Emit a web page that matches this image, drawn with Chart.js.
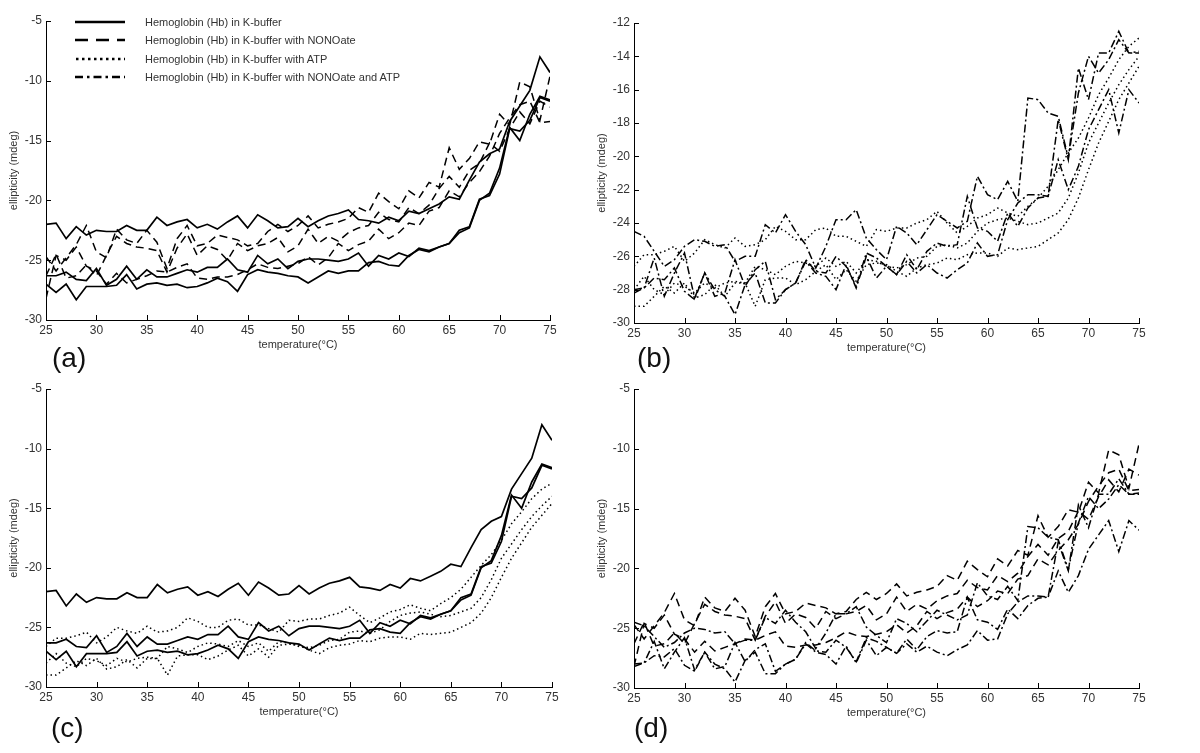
<!DOCTYPE html>
<html>
<head>
<meta charset="utf-8">
<script src="https://cdn.jsdelivr.net/npm/chart.js@4/dist/chart.umd.min.js"></script>
<style>
  body { margin: 0; background: #fff; width: 1200px; height: 753px; position: relative; overflow: hidden;
         font-family: "Liberation Sans", Arial, sans-serif; }
  .panel { position: absolute; }
  .tag { position: absolute; font-size: 28px; color: #111; line-height: 32px; }
  .legend { position: absolute; left: 75px; top: 13px; font-size: 11px; color: #333; }
  .row { height: 18.3px; display: flex; align-items: center; }
  .row svg { width: 50px; height: 6px; margin-right: 20px; }
</style>
</head>
<body>

<div class="panel" id="pa" style="left:0;top:0;width:562px;height:360px"><canvas id="ca"></canvas></div>
<div class="panel" id="pb" style="left:588px;top:0;width:563px;height:363px"><canvas id="cb"></canvas></div>
<div class="panel" id="pc" style="left:0;top:368px;width:564px;height:359px"><canvas id="cc"></canvas></div>
<div class="panel" id="pd" style="left:588px;top:368px;width:563px;height:360px"><canvas id="cd"></canvas></div>

<div class="legend">
  <div class="row"><svg><line x1="0" y1="3" x2="50" y2="3" stroke="#000" stroke-width="2.5"/></svg>Hemoglobin (Hb) in K-buffer</div>
  <div class="row"><svg><line x1="0" y1="3" x2="50" y2="3" stroke="#000" stroke-width="2.5" stroke-dasharray="13 8"/></svg>Hemoglobin (Hb) in K-buffer with NONOate</div>
  <div class="row"><svg><line x1="1" y1="3" x2="50" y2="3" stroke="#000" stroke-width="2.5" stroke-dasharray="2.5 3.5"/></svg>Hemoglobin (Hb) in K-buffer with ATP</div>
  <div class="row"><svg><line x1="0" y1="3" x2="50" y2="3" stroke="#000" stroke-width="2.5" stroke-dasharray="8 4 2.5 4"/></svg>Hemoglobin (Hb) in K-buffer with NONOate and ATP</div>
</div>

<div class="tag" style="left:52px;top:342px">(a)</div>
<div class="tag" style="left:637px;top:342px">(b)</div>
<div class="tag" style="left:51px;top:712px">(c)</div>
<div class="tag" style="left:634px;top:712px">(d)</div>

<script>
// temperature (°C)
const temps = [25,26,27,28,29,30,31,32,33,34,35,36,37,38,39,40,41,42,43,44,
  45,46,47,48,49,50,51,52,53,54,55,56,57,58,59,60,61,62,63,64,
  65,66,67,68,69,70,71,72,73,74,75];

// Hb in K-buffer (3 runs)
const kbuf1 = [-22.0,-21.9,-23.2,-22.2,-22.9,-22.5,-22.6,-22.6,-22.1,-22.5,
  -22.5,-21.4,-22.1,-21.8,-21.6,-22.3,-22.0,-22.4,-21.8,-21.3,
  -22.3,-21.2,-21.7,-22.3,-22.2,-21.5,-22.2,-21.7,-21.3,-21.1,
  -20.8,-21.6,-21.7,-21.9,-21.4,-21.7,-20.9,-21.1,-20.7,-20.3,
  -19.7,-19.9,-18.3,-16.8,-16.1,-15.7,-13.4,-12.1,-10.8,-8.0,
  -9.3];
const kbuf2 = [-26.3,-26.3,-26.0,-26.6,-26.7,-25.7,-27.1,-26.6,-25.5,-26.6,
  -25.8,-26.4,-26.4,-26.1,-25.8,-26.0,-25.6,-25.6,-24.9,-25.8,
  -26.0,-24.6,-25.3,-24.9,-25.7,-25.1,-24.9,-24.9,-25.0,-25.1,
  -24.9,-24.4,-25.5,-24.6,-24.9,-24.4,-24.7,-24.0,-24.2,-23.9,
  -23.6,-22.5,-22.2,-19.9,-19.6,-17.8,-14.0,-14.2,-13.3,-11.4,
  -11.7];
const kbuf3 = [-27.0,-27.7,-27.0,-28.3,-27.2,-27.2,-27.2,-27.1,-26.2,-27.4,
  -27.0,-26.9,-27.1,-27.0,-27.3,-27.2,-26.9,-26.5,-26.8,-27.6,
  -26.2,-25.8,-26.0,-26.1,-26.3,-26.4,-26.9,-26.4,-25.9,-26.1,
  -25.9,-25.9,-25.2,-25.1,-25.4,-25.5,-24.6,-24.1,-24.3,-23.9,
  -23.6,-22.7,-22.3,-20.0,-19.4,-17.3,-13.9,-15.0,-12.8,-11.3,
  -11.6];

// with NONOate
const nono1 = [-24.7,-25.9,-24.8,-23.7,-22.1,-24.3,-24.8,-22.4,-23.3,-23.6,
  -22.5,-23.5,-25.7,-23.2,-22.1,-23.8,-23.6,-22.9,-23.1,-23.3,
  -23.8,-23.6,-22.6,-22.0,-22.6,-22.1,-21.3,-22.3,-22.0,-21.8,
  -21.5,-20.6,-21.0,-19.4,-20.1,-20.7,-19.2,-19.8,-18.5,-18.9,
  -15.6,-17.4,-16.5,-15.1,-15.3,-12.8,-13.7,-10.1,-10.5,-13.3,
  -9.6];
const nono2 = [-26.3,-24.5,-26.5,-26.3,-25.4,-26.3,-24.6,-23.0,-23.6,-23.9,
  -24.0,-24.2,-26.0,-24.0,-22.8,-24.6,-23.8,-24.1,-25.0,-23.6,
  -24.2,-23.8,-23.6,-23.1,-24.3,-23.8,-22.4,-23.6,-23.0,-23.4,
  -22.7,-22.3,-22.1,-21.0,-21.6,-21.8,-20.6,-21.1,-20.4,-19.0,
  -18.0,-18.9,-17.5,-16.9,-15.2,-15.9,-14.0,-12.6,-13.6,-11.7,
  -12.2];
const nono3 = [-28.2,-24.6,-25.0,-23.9,-25.5,-25.9,-27.0,-26.1,-26.9,-26.6,
  -26.3,-25.9,-26.0,-25.6,-25.3,-26.5,-26.6,-26.4,-26.4,-26.2,
  -25.8,-25.3,-25.6,-25.7,-25.5,-25.3,-24.7,-25.4,-24.8,-23.6,
  -24.2,-23.7,-23.4,-22.4,-23.2,-22.7,-21.9,-22.1,-20.9,-20.6,
  -19.2,-19.7,-18.5,-17.6,-16.3,-14.4,-13.1,-12.0,-11.7,-13.5,
  -13.4];

// with ATP
const atp1 = [-26.6,-25.9,-25.9,-25.7,-25.4,-26.3,-25.8,-25.0,-25.3,-25.5,
  -24.9,-25.4,-25.3,-25.0,-24.2,-24.5,-25.0,-25.0,-24.4,-24.3,
  -24.8,-24.8,-25.1,-25.4,-24.4,-24.5,-24.3,-24.3,-24.0,-23.8,
  -23.3,-24.0,-24.6,-24.2,-23.7,-23.5,-23.1,-23.4,-23.6,-23.0,
  -22.5,-21.8,-20.8,-19.8,-18.9,-17.7,-16.3,-15.3,-14.2,-13.4,
  -12.9];
const atp2 = [-28.0,-27.2,-28.0,-28.3,-27.6,-27.8,-28.2,-27.6,-27.9,-27.6,
  -27.5,-27.6,-26.6,-26.8,-27.1,-26.6,-26.3,-26.4,-26.6,-26.1,
  -26.6,-26.3,-27.0,-26.2,-26.3,-26.6,-26.7,-26.5,-26.1,-26.0,
  -25.4,-25.3,-25.5,-25.2,-24.5,-24.0,-23.8,-23.7,-23.9,-24.1,
  -24.0,-23.7,-23.4,-22.5,-21.0,-19.2,-18.0,-16.8,-15.7,-14.8,
  -14.0];
const atp3 = [-29.0,-29.0,-28.4,-27.8,-28.2,-27.6,-28.5,-28.3,-27.7,-28.4,
  -27.6,-27.6,-29.0,-27.4,-27.3,-27.3,-27.7,-27.4,-26.9,-26.5,
  -27.4,-26.8,-27.5,-26.5,-26.4,-26.5,-26.9,-27.2,-26.7,-26.5,
  -26.4,-26.1,-26.2,-25.9,-25.8,-25.8,-26.0,-25.5,-25.6,-25.5,
  -25.4,-25.0,-24.6,-23.8,-22.5,-20.8,-19.2,-17.9,-16.6,-15.6,
  -14.6];

// with NONOate and ATP
const both1 = [-24.5,-24.8,-25.7,-26.6,-26.2,-25.4,-25.0,-25.1,-25.4,-25.3,
  -26.3,-26.0,-26.0,-24.1,-24.6,-23.5,-24.5,-25.3,-26.7,-25.4,
  -23.8,-23.8,-23.2,-24.9,-25.6,-26.2,-24.2,-24.6,-25.3,-24.4,
  -23.5,-23.9,-24.3,-23.9,-21.2,-22.3,-22.6,-21.5,-22.7,-16.5,
  -16.6,-17.4,-17.6,-20.1,-16.2,-14.0,-15.0,-14.2,-13.0,-13.8,
  -13.7];
const both2 = [-28.2,-27.9,-26.1,-28.4,-27.0,-25.8,-28.5,-27.0,-28.4,-28.2,
  -26.2,-27.8,-26.8,-26.3,-28.6,-28.0,-27.6,-26.2,-26.9,-27.0,
  -26.0,-26.6,-27.8,-25.8,-26.1,-26.6,-27.1,-25.9,-26.8,-25.7,
  -25.2,-25.4,-25.3,-22.4,-24.3,-24.5,-25.1,-23.4,-24.2,-23.1,
  -22.5,-22.4,-17.8,-20.2,-14.7,-16.6,-13.8,-13.8,-12.5,-13.8,
  -13.8];
const both3 = [-28.0,-27.9,-27.3,-27.4,-26.7,-28.1,-28.6,-27.0,-28.0,-28.4,
  -29.5,-27.7,-27.0,-28.8,-28.8,-28.0,-27.6,-26.3,-27.0,-27.2,
  -28.0,-26.5,-27.9,-26.0,-27.3,-26.6,-27.1,-26.3,-27.0,-26.5,
  -27.0,-27.3,-26.8,-26.4,-25.2,-26.0,-25.9,-23.8,-22.8,-22.3,
  -22.3,-22.4,-20.2,-22.0,-20.6,-18.4,-17.2,-16.0,-18.6,-16.0,
  -16.8];

const SOLID = [], DASH = [8, 5], DOT = [1.5, 3], DASHDOT = [8, 3, 2, 3];
const FONT = '"Liberation Sans", Arial, sans-serif';

// matlab style ticks pointing into the axes
const inwardTicks = {
  id: 'inwardTicks',
  afterDraw(chart) {
    const { ctx, chartArea, scales } = chart;
    ctx.save();
    ctx.strokeStyle = '#000';
    ctx.lineWidth = 1;
    ctx.beginPath();
    scales.x.ticks.forEach(t => {
      const px = Math.round(scales.x.getPixelForValue(t.value)) + 0.5;
      ctx.moveTo(px, chartArea.bottom);
      ctx.lineTo(px, chartArea.bottom - 5);
    });
    scales.y.ticks.forEach(t => {
      const py = Math.round(scales.y.getPixelForValue(t.value)) + 0.5;
      ctx.moveTo(chartArea.left, py);
      ctx.lineTo(chartArea.left + 5, py);
    });
    ctx.stroke();
    ctx.restore();
  }
};

function series(values, dash) {
  return {
    data: temps.map((t, i) => ({ x: t, y: values[i] })),
    borderColor: '#000',
    borderWidth: dash.length ? 1.5 : 1.7,
    borderDash: dash,
    pointRadius: 0,
    tension: 0,
    fill: false
  };
}

function makePanel(id, yMin, yMax, yStep, padTop, sets) {
  new Chart(document.getElementById(id), {
    type: 'line',
    data: { datasets: sets },
    plugins: [inwardTicks],
    options: {
      responsive: true,
      maintainAspectRatio: false,
      animation: false,
      layout: { padding: { top: padTop, right: 12, bottom: 8, left: 0 } },
      plugins: { legend: { display: false }, tooltip: { enabled: false } },
      scales: {
        x: {
          type: 'linear', min: 25, max: 75,
          ticks: { stepSize: 5, color: '#333', padding: 3, maxRotation: 0, font: { size: 12, family: FONT } },
          grid: { display: false, drawTicks: false },
          border: { display: true, color: '#000', width: 1 },
          title: { display: true, text: 'temperature(°C)', color: '#333',
                   font: { size: 11, family: FONT }, padding: { top: 0, bottom: 0 } },
          afterFit(s) { s.height = 32; }
        },
        y: {
          min: yMin, max: yMax,
          ticks: { stepSize: yStep, color: '#333', padding: 4, font: { size: 12, family: FONT } },
          grid: { display: false, drawTicks: false },
          border: { display: true, color: '#000', width: 1 },
          title: { display: true, text: 'ellipticity (mdeg)', color: '#333',
                   font: { size: 11, family: FONT }, padding: { top: 7, bottom: 0 } },
          afterFit(s) { s.width = 46; }
        }
      }
    }
  });
}

makePanel('ca', -30, -5, 5, 21, [
  series(nono1, DASH), series(nono2, DASH), series(nono3, DASH),
  series(kbuf1, SOLID), series(kbuf2, SOLID), series(kbuf3, SOLID)
]);
makePanel('cb', -30, -12, 2, 23, [
  series(atp1, DOT), series(atp2, DOT), series(atp3, DOT),
  series(both1, DASHDOT), series(both2, DASHDOT), series(both3, DASHDOT)
]);
makePanel('cc', -30, -5, 5, 21, [
  series(atp1, DOT), series(atp2, DOT), series(atp3, DOT),
  series(kbuf1, SOLID), series(kbuf2, SOLID), series(kbuf3, SOLID)
]);
makePanel('cd', -30, -5, 5, 21, [
  series(nono1, DASH), series(nono2, DASH), series(nono3, DASH),
  series(both1, DASHDOT), series(both2, DASHDOT), series(both3, DASHDOT)
]);
</script>
</body>
</html>
